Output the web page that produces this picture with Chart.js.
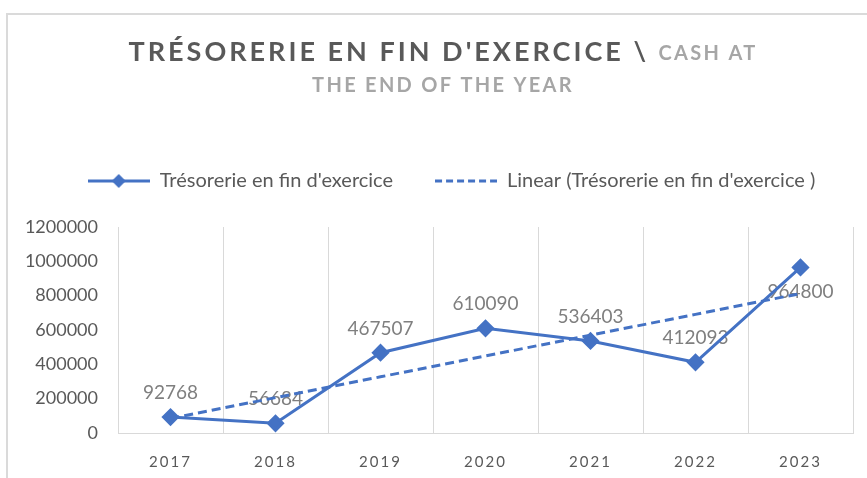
<!DOCTYPE html>
<html>
<head>
<meta charset="utf-8">
<script src="https://cdn.jsdelivr.net/npm/chart.js@4.4.0/dist/chart.umd.min.js"></script>
<style>
    html, body { margin: 0; padding: 0; background: #fff; }
    #wrap { position: relative; width: 867px; height: 478px; overflow: hidden; }
    #frame { position: absolute; left: 6px; top: 13px; width: 900px; height: 500px; border: 2px solid #dadada; box-sizing: border-box; }
    #cashChart { position: absolute; left: 0; top: 0; }
</style>
</head>
<body>
<div id="wrap">
    <div id="frame"></div>
    <canvas id="cashChart" width="867" height="478"></canvas>
</div>
<script>
// Données
const years = ['2017', '2018', '2019', '2020', '2021', '2022', '2023'];
const cashValues = [92768, 56684, 467507, 610090, 536403, 412093, 964800];
const yMin = 0;
const yMax = 1200000;
const yStep = 200000;

const seriesLabel = "Trésorerie en fin d'exercice";
const trendLabel = "Linear (Trésorerie en fin d'exercice )";

// Position des étiquettes (au-dessus / en dessous du point)
const labelSides = ['above', 'above', 'above', 'above', 'above', 'above', 'below'];

const blue = '#4472C4';
const textGray = '#595959';
const lightGray = '#a6a6a6';

// Courbe de tendance linéaire (moindres carrés, comme Excel)
function linearTrend(values) {
    const n = values.length;
    const mx = (n - 1) / 2;
    const my = values.reduce((a, b) => a + b, 0) / n;
    let sxy = 0, sxx = 0;
    values.forEach((v, i) => { sxy += (i - mx) * (v - my); sxx += (i - mx) * (i - mx); });
    const slope = sxy / sxx;
    return values.map((v, i) => my + slope * (i - mx));
}
const trendValues = linearTrend(cashValues);

// Icônes de légende
function legendIcon(dashed) {
    const c = document.createElement('canvas');
    c.width = 62;
    c.height = 16;
    const g = c.getContext('2d');
    g.strokeStyle = blue;
    g.lineWidth = 3;
    if (dashed) g.setLineDash([7, 4]);
    g.beginPath();
    g.moveTo(0, 8);
    g.lineTo(62, 8);
    g.stroke();
    if (!dashed) {
        g.fillStyle = blue;
        g.beginPath();
        g.moveTo(31, 1);
        g.lineTo(38, 8);
        g.lineTo(31, 15);
        g.lineTo(24, 8);
        g.closePath();
        g.fill();
    }
    return c;
}

// Titre en deux couleurs
const titlePlugin = {
    id: 'twoToneTitle',
    afterDraw(chart) {
        const ctx = chart.ctx;
        const cx = 443;
        ctx.save();
        ctx.textBaseline = 'middle';
        ctx.textAlign = 'left';
        const partA = "TRÉSORERIE EN FIN D'EXERCICE \\ ";
        const partB = 'CASH AT';
        ctx.font = 'bold 27px Lato';
        ctx.letterSpacing = '3px';
        const wA = ctx.measureText(partA).width;
        ctx.font = 'bold 20px Lato';
        ctx.letterSpacing = '2.3px';
        const wB = ctx.measureText(partB).width;
        let x = cx - (wA + wB) / 2;
        ctx.font = 'bold 27px Lato';
        ctx.letterSpacing = '3px';
        ctx.fillStyle = textGray;
        ctx.fillText(partA, x, 52);
        ctx.font = 'bold 20px Lato';
        ctx.letterSpacing = '2.3px';
        ctx.fillStyle = lightGray;
        ctx.fillText(partB, x + wA, 54);
        ctx.textAlign = 'center';
        ctx.fillText('THE END OF THE YEAR', cx, 86);
        ctx.restore();
    }
};

// Étiquettes de données
const valueLabelPlugin = {
    id: 'valueLabels',
    beforeDatasetsDraw(chart) {
        const ctx = chart.ctx;
        const meta = chart.getDatasetMeta(0);
        ctx.save();
        ctx.font = '19px Lato';
        ctx.fillStyle = '#7f7f7f';
        ctx.textAlign = 'center';
        ctx.textBaseline = 'middle';
        meta.data.forEach((pt, i) => {
            const dy = labelSides[i] === 'below' ? 24 : -24;
            ctx.fillText(String(cashValues[i]), pt.x, pt.y + dy);
        });
        ctx.restore();
    }
};

// Espacement des lettres sur l'axe X, légende déplacée
const layoutTweaks = {
    id: 'layoutTweaks',
    afterLayout(chart) {
        chart.legend.top -= 26;
        chart.legend.bottom -= 26;
        chart.legend.left += 20;
        chart.legend.right += 20;
    },
    beforeDraw(chart) {
        const s = chart.scales.x;
        if (s && !s._spaced) {
            const orig = s.drawLabels.bind(s);
            s.drawLabels = function(area) {
                this.ctx.save();
                this.ctx.letterSpacing = '2px';
                orig(area);
                this.ctx.restore();
            };
            s._spaced = true;
        }
    }
};

function initCashChart() {
    const ctx = document.getElementById('cashChart');
    new Chart(ctx.getContext('2d'), {
        type: 'line',
        data: {
            labels: years,
            datasets: [{
                label: seriesLabel,
                data: cashValues,
                borderColor: blue,
                backgroundColor: blue,
                borderWidth: 3,
                pointStyle: 'rectRot',
                pointRadius: 7,
                pointHoverRadius: 7,
                tension: 0,
                order: 2
            }, {
                label: trendLabel,
                data: trendValues,
                borderColor: blue,
                backgroundColor: blue,
                borderWidth: 3,
                borderDash: [9, 5],
                pointRadius: 0,
                tension: 0,
                order: 1
            }]
        },
        options: {
            responsive: false,
            animation: false,
            devicePixelRatio: 1,
            layout: {
                padding: { top: 155, left: 10, right: 14, bottom: 0 }
            },
            plugins: {
                legend: {
                    position: 'top',
                    labels: {
                        usePointStyle: true,
                        pointStyleWidth: 62,
                        padding: 42,
                        color: textGray,
                        font: { family: 'Lato', size: 20 },
                        sort: (a, b) => a.datasetIndex - b.datasetIndex,
                        generateLabels(chart) {
                            return chart.data.datasets.map((ds, i) => ({
                                text: ds.label,
                                fontColor: textGray,
                                pointStyle: legendIcon(i === 1),
                                strokeStyle: 'transparent',
                                fillStyle: 'transparent',
                                lineWidth: 0,
                                hidden: false,
                                datasetIndex: i
                            }));
                        }
                    }
                },
                tooltip: { enabled: false }
            },
            scales: {
                x: {
                    offset: true,
                    grid: { offset: true, color: '#d9d9d9', drawTicks: false },
                    border: { display: true, color: '#d9d9d9' },
                    ticks: { color: textGray, padding: 20, font: { family: 'Lato', size: 15 } },
                    afterFit(s) { s.height = 45; }
                },
                y: {
                    min: yMin,
                    max: yMax,
                    grid: { display: false, drawTicks: false },
                    border: { display: false },
                    ticks: {
                        stepSize: yStep,
                        autoSkip: false,
                        color: textGray,
                        padding: 20,
                        font: { family: 'Lato', size: 18 },
                        callback: (v) => String(v)
                    },
                    afterFit(s) { s.width = 108; }
                }
            }
        },
        plugins: [titlePlugin, valueLabelPlugin, layoutTweaks]
    });
}

document.addEventListener('DOMContentLoaded', function() {
    initCashChart();
});
</script>
</body>
</html>
